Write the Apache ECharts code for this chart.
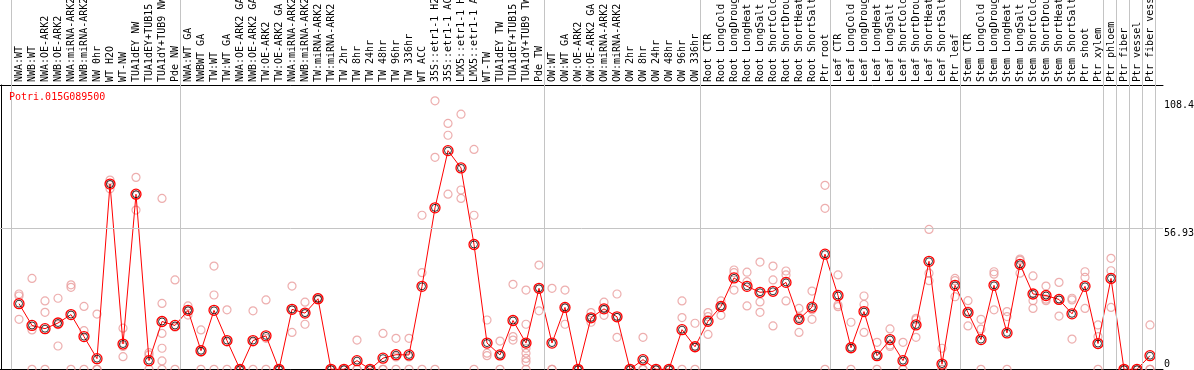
<!DOCTYPE html>
<html><head><meta charset="utf-8">
<script src="https://cdn.jsdelivr.net/npm/echarts@6/dist/echarts.min.js"></script>
<style>html,body{margin:0;padding:0;background:#fff}#c{width:1194px;height:370px}</style>
</head><body><div id="c"></div>
<script>
const geneName = 'Potri.015G089500';

const categories = [
  'NWA:WT','NWB:WT','NWA:OE-ARK2','NWB:OE-ARK2','NWA:miRNA-ARK2','NWB:miRNA-ARK2','NW 0hr','WT H2O','WT-NW','TUA1dEY NW','TUA1dEY+TUB15 NW','TUA1dY+TUB9 NW','Pde NW',
  'NWA:WT GA','NWBWT GA','TW:WT','TW:WT GA','NWA:OE-ARK2 GA','NWB:OE-ARK2 GA','TW:OE-ARK2','TW:OE-ARK2 GA','NWA:miRNA-ARK2 GA','NWB:miRNA-ARK2 GA','TW:miRNA-ARK2','TW:miRNA-ARK2 GA','TW 2hr','TW 8hr','TW 24hr','TW 48hr','TW 96hr','TW 336hr','WT ACC','35S::etr1-1 H2O','35S::etr1-1 ACC','LMX5::etr1-1 H2O','LMX5::etr1-1 ACC','WT-TW','TUA1dEY TW','TUA1dEY+TUB15 TW','TUA1dY+TUB9 TW','Pde TW',
  'OW:WT','OW:WT GA','OW:OE-ARK2','OW:OE-ARK2 GA','OW:miRNA-ARK2','OW:miRNA-ARK2 GA','OW 2hr','OW 8hr','OW 24hr','OW 48hr','OW 96hr','OW 336hr',
  'Root CTR','Root LongCold','Root LongDrought','Root LongHeat','Root LongSalt','Root ShortCold','Root ShortDrought','Root ShortHeat','Root ShortSalt','Ptr root',
  'Leaf CTR','Leaf LongCold','Leaf LongDrought','Leaf LongHeat','Leaf LongSalt','Leaf ShortCold','Leaf ShortDrought','Leaf ShortHeat','Leaf ShortSalt','Ptr leaf',
  'Stem CTR','Stem LongCold','Stem LongDrought','Stem LongHeat','Stem LongSalt','Stem ShortCold','Stem ShortDrought','Stem ShortHeat','Stem ShortSalt','Ptr shoot',
  'Ptr xylem','Ptr phloem','Ptr fiber','Ptr vessel','Ptr fiber vessel'
];

const means = [
  26.5,17.7,16.4,18.7,22.1,13.2,4.3,74.8,10.2,70.7,3.5,19.3,17.7,
  23.8,7.5,23.8,11.6,0,11.6,13.5,0,24.2,22.7,28.5,0,0,3.5,0,4.5,5.9,5.8,33.5,65.2,88.3,81.3,50.4,10.6,5.8,19.7,10.6,32.7,
  10.6,25.0,0,20.8,24.4,21.2,0,3.9,0,0,16.0,9.1,
  19.4,25.4,36.9,33.5,31.1,31.5,35.1,20.2,25.1,46.5,
  29.8,8.7,23.3,5.5,12.0,3.5,17.9,43.6,2.1,33.9,
  22.9,12.0,33.9,14.7,42.4,30.4,29.8,28.2,22.4,33.5,
  10.4,36.7,0,0,5.5
];

const replicates = [
  [30.4,29.6,20.2],[36.7,15.9,0],[27.6,23.0,0],[28.7,18,9.4],[34.1,33.1,0],[25.4,15.6,0],[22.3,0,0],[76.4,74.8,72.9],[16.6,9.2,5.1],[77.5,70.3,64.3],[6.7,5.8,0],[69.0,26.6,14.5,8.5,3.4,0],[36.1,17,0],
  [25.6,23.8,21.9],[15.9,7,0],[41.7,30.0,0],[24.0,11,0],[0,0,0],[23.6,11,0],[28.0,12.5,0],[0,0,0],[33.6,24,14.9],[27.1,22.7,18.2],[29,28.5,28],[0,0,0],[0,0,0],[11.8,0,0],[0,0,0],[14.5,0,0],[12.5,5,0],[12.5,5,0],[62.2,39.0,0],[108.4,85.6,0],[99.3,94.5,70.7],[103.0,72.4,69.0],[88.8,62.2,0],[19.9,6.5,5.5],[11.4,5.8,0],[34.3,13.2,11.8],[32.0,18.2,10.5,8.5,6.5,4.4,3.0,0],[42.1,32.5,23.6],
  [32.7,0,0],[32.0,25,18.2],[0,0,0],[22.9,20.8,19.0],[27.1,24.4,21.8],[30.4,21,12.9],[0,0,0],[12.9,0,0],[0,0,0],[0,0,0],[27.6,20.9,0],[18.6,9,0],
  [22.9,21.3,14.1],[27.6,25.4,21.8],[40.1,39.0,32.0],[39.2,35.4,25.6],[43.3,27.2,23.0],[41.7,36.1,17.5],[39.7,38.1,27.6],[24.6,21,14.9],[31.6,24,20.2],[74.3,65.0,0],
  [38.1,26.0,25.3],[19.0,8.5,0],[29.6,26.2,14.9],[10.9,5.5,0],[16.3,9.8,9.2],[10.9,0,0],[20.6,20,12.9],[56.5,38.8,35.8],[8.5,0,0],[36.7,35.8,29.3],
  [27.7,23.5,17.5],[20.2,16.2,0],[39.4,38.4,24.0],[23.3,21.3,0],[44.5,44,38.8],[37.7,27.7,24.6],[33.6,28.3,27.7],[35.1,28,21.5],[28.7,28.0,12.2],[39.4,37.1,24.6],
  [17.9,13.2,0],[44.8,39.8,25.0],[0,0,0],[0,0,0],[17.9,0,0]
];

const yTickLabels = [0, 56.93, 108.4];
const gridValue = 56.93;
// last category index of each block (separators drawn just after these)
const groupEnds = [-1, 12, 40, 52, 62, 72, 83, 84, 85, 86, 87, 90];

const FONT = 'DejaVu Sans Mono';
const SEP = '#c4c4c4';
const PX = 13;             // px per category
const X_MIN = -1.5;
const GRID_LEFT = -0.5;
const PLOT_MAX = 88;
const LABEL_MAX = X_MIN + (1194.5 - GRID_LEFT) / PX;
const Y_MAX = 114.8;

const sepValues = groupEnds.map(e => e + 0.4);
const lineData = means.map((v, i) => [i, v]);
const repData = [];
replicates.forEach((arr, i) => arr.forEach(v => repData.push([i, v])));

const chart = echarts.init(document.getElementById('c'), null, {renderer: 'canvas'});
chart.setOption({
  animation: false,
  title: {
    text: geneName, left: 9, top: 92, padding: 0,
    textStyle: {color: '#ff0000', fontSize: 10, fontFamily: FONT, fontWeight: 'normal'}
  },
  grid: [
    {left: GRID_LEFT, top: 85, width: (PLOT_MAX - X_MIN) * PX, height: 284.3, containLabel: false, outerBoundsMode: 'none'},
    {left: GRID_LEFT, top: 0, width: (LABEL_MAX - X_MIN) * PX, height: 85, containLabel: false, outerBoundsMode: 'none'}
  ],
  xAxis: [
    {
      gridIndex: 0, type: 'value', position: 'top', min: X_MIN, max: PLOT_MAX, interval: 0.5,
      axisLine: {show: true, onZero: false, lineStyle: {color: '#000', width: 1}},
      axisTick: {show: false}, splitLine: {show: false},
      axisLabel: {
        rotate: -90, margin: 3, fontSize: 10, fontFamily: FONT, color: '#000',
        showMinLabel: true, showMaxLabel: true,
        formatter: v => (Number.isInteger(v) && v >= 0 && v < categories.length) ? categories[v] : ''
      }
    },
    {
      gridIndex: 0, type: 'value', position: 'bottom', min: X_MIN, max: PLOT_MAX,
      axisLine: {show: true, onZero: false, lineStyle: {color: '#000', width: 1}},
      axisTick: {show: false}, splitLine: {show: false}, axisLabel: {show: false}
    },
    {gridIndex: 1, type: 'value', min: X_MIN, max: LABEL_MAX, show: false}
  ],
  yAxis: [
    {
      gridIndex: 0, type: 'value', position: 'right', min: 0, max: Y_MAX,
      axisLine: {show: false, onZero: false}, axisTick: {show: false}, splitLine: {show: false},
      axisLabel: {
        customValues: yTickLabels, margin: 1, align: 'left', verticalAlign: 'top',
        verticalAlignMinLabel: 'bottom',
        fontSize: 10, fontFamily: FONT, color: '#000',
        formatter: v => String(v)
      }
    },
    {
      gridIndex: 0, type: 'value', position: 'left', offset: -1.5, min: 0, max: Y_MAX,
      axisLine: {show: true, onZero: false, lineStyle: {color: '#000', width: 1}},
      axisTick: {show: false}, splitLine: {show: false}, axisLabel: {show: false}
    },
    {gridIndex: 1, type: 'value', min: 0, max: 1, show: false}
  ],
  series: [
    {
      type: 'line', xAxisIndex: 2, yAxisIndex: 2, data: [], z: 1, silent: true,
      markLine: {
        symbol: 'none', silent: true, label: {show: false},
        lineStyle: {color: SEP, width: 1, type: 'solid'},
        data: sepValues.map(x => ({xAxis: x}))
      }
    },
    {
      type: 'scatter', xAxisIndex: 0, yAxisIndex: 0, data: repData, z: 2,
      symbol: 'circle', symbolSize: 8,
      itemStyle: {color: 'rgba(0,0,0,0)', borderColor: '#e89a9a', borderWidth: 1.2},
      markLine: {
        symbol: 'none', silent: true, label: {show: false},
        lineStyle: {color: SEP, width: 1, type: 'solid'},
        data: sepValues.filter(x => x < PLOT_MAX).map(x => ({xAxis: x})).concat([{yAxis: gridValue}])
      }
    },
    {
      type: 'line', xAxisIndex: 0, yAxisIndex: 0, data: lineData, z: 3,
      symbol: 'circle', symbolSize: 10, showAllSymbol: true,
      lineStyle: {color: '#ff0000', width: 1},
      itemStyle: {color: 'rgba(0,0,0,0)', borderColor: '#ff0000', borderWidth: 1.3}
    },
    {
      type: 'scatter', xAxisIndex: 0, yAxisIndex: 0, data: lineData, z: 4, silent: true,
      symbol: 'circle', symbolSize: 7,
      itemStyle: {color: 'rgba(0,0,0,0)', borderColor: '#000', borderWidth: 1}
    }
  ]
});
</script>
</body></html>
